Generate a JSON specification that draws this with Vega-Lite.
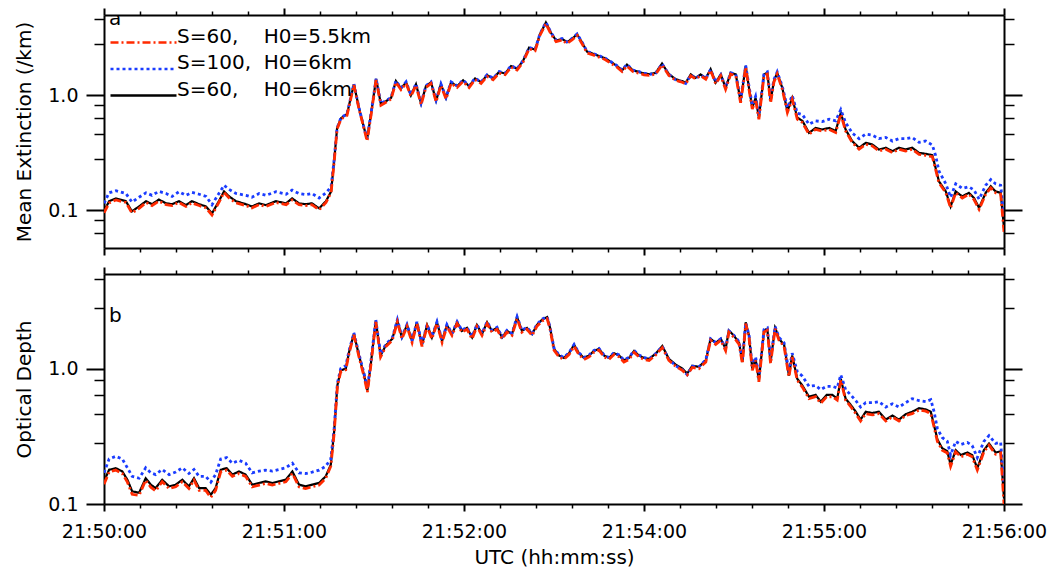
{
  "$schema": "https://vega.github.io/schema/vega-lite/v6.json",
  "padding": {"left": 14, "top": 7, "right": 2, "bottom": 0},
  "background": "white",
  "config": {
    "font": "DejaVu Sans",
    "view": {"stroke": null},
    "axis": {"grid": false, "domainColor": "black", "tickColor": "black", "labelColor": "black", "titleColor": "black", "labelFont": "DejaVu Sans", "titleFont": "DejaVu Sans", "titleFontWeight": "normal", "labelFontSize": 19, "titleFontSize": 20, "labelFlush": false},
    "concat": {"spacing": 10}
  },
  "resolve": {"scale": {"color": "independent", "strokeDash": "independent"}, "legend": {"color": "independent", "strokeDash": "independent"}},
  "datasets": {
    "ext": [
      {"t":0,"s60h55":0.095,"s100h6":0.115,"s60h6":0.098},
      {"t":1.7,"s60h55":0.116,"s100h6":0.142,"s60h6":0.120},
      {"t":4,"s60h55":0.123,"s100h6":0.148,"s60h6":0.127},
      {"t":7.3,"s60h55":0.117,"s100h6":0.140,"s60h6":0.120},
      {"t":9.3,"s60h55":0.095,"s100h6":0.118,"s60h6":0.098},
      {"t":11.7,"s60h55":0.104,"s100h6":0.130,"s60h6":0.108},
      {"t":14,"s60h55":0.117,"s100h6":0.142,"s60h6":0.120},
      {"t":16,"s60h55":0.110,"s100h6":0.135,"s60h6":0.113},
      {"t":18.3,"s60h55":0.120,"s100h6":0.146,"s60h6":0.124},
      {"t":20.7,"s60h55":0.112,"s100h6":0.140,"s60h6":0.115},
      {"t":22.7,"s60h55":0.110,"s100h6":0.132,"s60h6":0.113},
      {"t":25,"s60h55":0.117,"s100h6":0.145,"s60h6":0.120},
      {"t":27.3,"s60h55":0.108,"s100h6":0.135,"s60h6":0.111},
      {"t":29.3,"s60h55":0.116,"s100h6":0.143,"s60h6":0.120},
      {"t":31.7,"s60h55":0.110,"s100h6":0.138,"s60h6":0.113},
      {"t":34,"s60h55":0.105,"s100h6":0.132,"s60h6":0.108},
      {"t":36,"s60h55":0.091,"s100h6":0.112,"s60h6":0.094},
      {"t":38.3,"s60h55":0.117,"s100h6":0.140,"s60h6":0.120},
      {"t":40,"s60h55":0.143,"s100h6":0.165,"s60h6":0.146},
      {"t":41.7,"s60h55":0.128,"s100h6":0.152,"s60h6":0.132},
      {"t":44,"s60h55":0.116,"s100h6":0.140,"s60h6":0.120},
      {"t":47.3,"s60h55":0.110,"s100h6":0.135,"s60h6":0.113},
      {"t":49.3,"s60h55":0.105,"s100h6":0.130,"s60h6":0.108},
      {"t":51.7,"s60h55":0.112,"s100h6":0.140,"s60h6":0.115},
      {"t":54,"s60h55":0.108,"s100h6":0.135,"s60h6":0.111},
      {"t":57.3,"s60h55":0.117,"s100h6":0.145,"s60h6":0.120},
      {"t":60.7,"s60h55":0.112,"s100h6":0.138,"s60h6":0.115},
      {"t":62.7,"s60h55":0.123,"s100h6":0.150,"s60h6":0.127},
      {"t":65,"s60h55":0.112,"s100h6":0.140,"s60h6":0.115},
      {"t":67.3,"s60h55":0.110,"s100h6":0.137,"s60h6":0.113},
      {"t":69.3,"s60h55":0.112,"s100h6":0.140,"s60h6":0.115},
      {"t":71.7,"s60h55":0.101,"s100h6":0.128,"s60h6":0.104},
      {"t":74,"s60h55":0.117,"s100h6":0.142,"s60h6":0.120},
      {"t":75.7,"s60h55":0.143,"s100h6":0.160,"s60h6":0.146},
      {"t":76.7,"s60h55":0.260,"s100h6":0.275,"s60h6":0.267},
      {"t":77.7,"s60h55":0.510,"s100h6":0.520,"s60h6":0.519},
      {"t":79,"s60h55":0.620,"s100h6":0.640,"s60h6":0.633},
      {"t":81,"s60h55":0.670,"s100h6":0.690,"s60h6":0.687},
      {"t":83.3,"s60h55":1.23,"s100h6":1.26,"s60h6":1.25},
      {"t":85,"s60h55":0.760,"s100h6":0.780,"s60h6":0.775},
      {"t":86.7,"s60h55":0.510,"s100h6":0.520,"s60h6":0.519},
      {"t":87.7,"s60h55":0.400,"s100h6":0.420,"s60h6":0.416},
      {"t":89,"s60h55":0.670,"s100h6":0.690,"s60h6":0.687},
      {"t":90.7,"s60h55":1.36,"s100h6":1.40,"s60h6":1.39},
      {"t":92.3,"s60h55":0.82,"s100h6":0.85,"s60h6":0.84},
      {"t":94,"s60h55":0.87,"s100h6":0.90,"s60h6":0.89},
      {"t":95.7,"s60h55":0.93,"s100h6":0.96,"s60h6":0.95},
      {"t":97.3,"s60h55":1.30,"s100h6":1.34,"s60h6":1.33},
      {"t":99,"s60h55":1.12,"s100h6":1.16,"s60h6":1.15},
      {"t":100.7,"s60h55":1.27,"s100h6":1.31,"s60h6":1.30},
      {"t":102.3,"s60h55":0.98,"s100h6":1.01,"s60h6":1.00},
      {"t":104,"s60h55":1.22,"s100h6":1.26,"s60h6":1.25},
      {"t":105.7,"s60h55":0.83,"s100h6":0.86,"s60h6":0.85},
      {"t":107.3,"s60h55":1.17,"s100h6":1.21,"s60h6":1.20},
      {"t":109,"s60h55":1.27,"s100h6":1.31,"s60h6":1.30},
      {"t":110.7,"s60h55":0.88,"s100h6":0.91,"s60h6":0.90},
      {"t":112.3,"s60h55":1.22,"s100h6":1.26,"s60h6":1.25},
      {"t":114,"s60h55":0.93,"s100h6":0.96,"s60h6":0.95},
      {"t":115.7,"s60h55":1.27,"s100h6":1.31,"s60h6":1.30},
      {"t":117.7,"s60h55":1.17,"s100h6":1.21,"s60h6":1.20},
      {"t":119.7,"s60h55":1.32,"s100h6":1.36,"s60h6":1.35},
      {"t":121.7,"s60h55":1.17,"s100h6":1.21,"s60h6":1.20},
      {"t":123.7,"s60h55":1.37,"s100h6":1.41,"s60h6":1.40},
      {"t":125.7,"s60h55":1.27,"s100h6":1.31,"s60h6":1.30},
      {"t":127.7,"s60h55":1.46,"s100h6":1.51,"s60h6":1.50},
      {"t":129.7,"s60h55":1.37,"s100h6":1.41,"s60h6":1.40},
      {"t":131.7,"s60h55":1.56,"s100h6":1.61,"s60h6":1.60},
      {"t":133.7,"s60h55":1.51,"s100h6":1.56,"s60h6":1.55},
      {"t":135.7,"s60h55":1.76,"s100h6":1.81,"s60h6":1.80},
      {"t":137.7,"s60h55":1.66,"s100h6":1.71,"s60h6":1.70},
      {"t":139.7,"s60h55":1.95,"s100h6":2.01,"s60h6":2.00},
      {"t":141.7,"s60h55":2.54,"s100h6":2.61,"s60h6":2.60},
      {"t":143.7,"s60h55":2.44,"s100h6":2.51,"s60h6":2.50},
      {"t":145.3,"s60h55":3.32,"s100h6":3.42,"s60h6":3.40},
      {"t":147.3,"s60h55":4.20,"s100h6":4.32,"s60h6":4.30},
      {"t":149,"s60h55":3.42,"s100h6":3.52,"s60h6":3.50},
      {"t":150.7,"s60h55":2.93,"s100h6":3.02,"s60h6":3.00},
      {"t":152.7,"s60h55":3.03,"s100h6":3.12,"s60h6":3.10},
      {"t":154.3,"s60h55":2.83,"s100h6":2.92,"s60h6":2.90},
      {"t":156,"s60h55":3.03,"s100h6":3.12,"s60h6":3.10},
      {"t":157.7,"s60h55":3.32,"s100h6":3.42,"s60h6":3.40},
      {"t":159.3,"s60h55":2.83,"s100h6":2.92,"s60h6":2.90},
      {"t":161,"s60h55":2.34,"s100h6":2.41,"s60h6":2.40},
      {"t":163,"s60h55":2.25,"s100h6":2.31,"s60h6":2.30},
      {"t":165,"s60h55":2.15,"s100h6":2.21,"s60h6":2.20},
      {"t":167,"s60h55":2.05,"s100h6":2.11,"s60h6":2.10},
      {"t":169,"s60h55":1.90,"s100h6":1.96,"s60h6":1.95},
      {"t":171,"s60h55":1.76,"s100h6":1.81,"s60h6":1.80},
      {"t":172.7,"s60h55":1.61,"s100h6":1.66,"s60h6":1.65},
      {"t":174.3,"s60h55":1.80,"s100h6":1.86,"s60h6":1.85},
      {"t":176.3,"s60h55":1.61,"s100h6":1.66,"s60h6":1.65},
      {"t":178.3,"s60h55":1.56,"s100h6":1.61,"s60h6":1.60},
      {"t":180,"s60h55":1.51,"s100h6":1.56,"s60h6":1.55},
      {"t":181.7,"s60h55":1.49,"s100h6":1.52,"s60h6":1.53},
      {"t":183.9,"s60h55":1.53,"s100h6":1.56,"s60h6":1.57},
      {"t":186,"s60h55":1.84,"s100h6":1.88,"s60h6":1.89},
      {"t":188.3,"s60h55":1.49,"s100h6":1.52,"s60h6":1.53},
      {"t":190.6,"s60h55":1.35,"s100h6":1.36,"s60h6":1.38},
      {"t":192.7,"s60h55":1.30,"s100h6":1.31,"s60h6":1.33},
      {"t":193.9,"s60h55":1.26,"s100h6":1.27,"s60h6":1.29},
      {"t":195.6,"s60h55":1.48,"s100h6":1.50,"s60h6":1.52},
      {"t":197.2,"s60h55":1.39,"s100h6":1.41,"s60h6":1.42},
      {"t":198.9,"s60h55":1.48,"s100h6":1.50,"s60h6":1.52},
      {"t":200.6,"s60h55":1.38,"s100h6":1.40,"s60h6":1.41},
      {"t":202.2,"s60h55":1.65,"s100h6":1.68,"s60h6":1.69},
      {"t":203.9,"s60h55":1.26,"s100h6":1.30,"s60h6":1.29},
      {"t":205.6,"s60h55":1.48,"s100h6":1.51,"s60h6":1.52},
      {"t":207.2,"s60h55":1.13,"s100h6":1.18,"s60h6":1.16},
      {"t":208.9,"s60h55":1.53,"s100h6":1.57,"s60h6":1.57},
      {"t":210.6,"s60h55":1.48,"s100h6":1.53,"s60h6":1.52},
      {"t":212.2,"s60h55":0.86,"s100h6":0.92,"s60h6":0.89},
      {"t":213.9,"s60h55":1.76,"s100h6":1.82,"s60h6":1.80},
      {"t":215,"s60h55":1.13,"s100h6":1.20,"s60h6":1.16},
      {"t":216.1,"s60h55":0.76,"s100h6":0.82,"s60h6":0.78},
      {"t":217.2,"s60h55":0.92,"s100h6":0.98,"s60h6":0.95},
      {"t":218.3,"s60h55":0.62,"s100h6":0.67,"s60h6":0.64},
      {"t":220,"s60h55":1.48,"s100h6":1.55,"s60h6":1.52},
      {"t":221.1,"s60h55":1.53,"s100h6":1.60,"s60h6":1.57},
      {"t":222.2,"s60h55":0.86,"s100h6":0.93,"s60h6":0.89},
      {"t":223.3,"s60h55":1.30,"s100h6":1.37,"s60h6":1.33},
      {"t":224.4,"s60h55":1.53,"s100h6":1.60,"s60h6":1.57},
      {"t":226.1,"s60h55":1.13,"s100h6":1.20,"s60h6":1.16},
      {"t":227.8,"s60h55":0.71,"s100h6":0.78,"s60h6":0.73},
      {"t":229.4,"s60h55":0.92,"s100h6":1.00,"s60h6":0.95},
      {"t":231.1,"s60h55":0.62,"s100h6":0.70,"s60h6":0.64},
      {"t":232.8,"s60h55":0.58,"s100h6":0.68,"s60h6":0.60},
      {"t":235,"s60h55":0.460,"s100h6":0.56,"s60h6":0.472},
      {"t":237.2,"s60h55":0.505,"s100h6":0.60,"s60h6":0.52},
      {"t":239.4,"s60h55":0.49,"s100h6":0.59,"s60h6":0.505},
      {"t":241.7,"s60h55":0.505,"s100h6":0.62,"s60h6":0.52},
      {"t":243.9,"s60h55":0.475,"s100h6":0.60,"s60h6":0.49},
      {"t":245.6,"s60h55":0.685,"s100h6":0.75,"s60h6":0.705},
      {"t":247.2,"s60h55":0.49,"s100h6":0.58,"s60h6":0.505},
      {"t":249.4,"s60h55":0.39,"s100h6":0.47,"s60h6":0.40},
      {"t":251.7,"s60h55":0.34,"s100h6":0.42,"s60h6":0.35},
      {"t":253.9,"s60h55":0.375,"s100h6":0.46,"s60h6":0.386},
      {"t":256.1,"s60h55":0.363,"s100h6":0.45,"s60h6":0.374},
      {"t":258.3,"s60h55":0.328,"s100h6":0.42,"s60h6":0.338},
      {"t":260.6,"s60h55":0.34,"s100h6":0.43,"s60h6":0.35},
      {"t":262.8,"s60h55":0.318,"s100h6":0.40,"s60h6":0.327},
      {"t":265,"s60h55":0.34,"s100h6":0.42,"s60h6":0.35},
      {"t":267.2,"s60h55":0.328,"s100h6":0.42,"s60h6":0.338},
      {"t":269.4,"s60h55":0.34,"s100h6":0.43,"s60h6":0.35},
      {"t":271.7,"s60h55":0.307,"s100h6":0.39,"s60h6":0.316},
      {"t":273.9,"s60h55":0.30,"s100h6":0.40,"s60h6":0.31},
      {"t":276.1,"s60h55":0.293,"s100h6":0.37,"s60h6":0.302},
      {"t":277.2,"s60h55":0.227,"s100h6":0.30,"s60h6":0.234},
      {"t":278.3,"s60h55":0.174,"s100h6":0.22,"s60h6":0.179},
      {"t":280.6,"s60h55":0.142,"s100h6":0.17,"s60h6":0.146},
      {"t":282.2,"s60h55":0.105,"s100h6":0.13,"s60h6":0.108},
      {"t":283.9,"s60h55":0.142,"s100h6":0.17,"s60h6":0.146},
      {"t":286.1,"s60h55":0.128,"s100h6":0.155,"s60h6":0.132},
      {"t":288.3,"s60h55":0.138,"s100h6":0.16,"s60h6":0.142},
      {"t":290,"s60h55":0.124,"s100h6":0.15,"s60h6":0.128},
      {"t":291.7,"s60h55":0.102,"s100h6":0.125,"s60h6":0.105},
      {"t":293.9,"s60h55":0.138,"s100h6":0.165,"s60h6":0.142},
      {"t":295.6,"s60h55":0.157,"s100h6":0.185,"s60h6":0.162},
      {"t":297.2,"s60h55":0.142,"s100h6":0.17,"s60h6":0.146},
      {"t":298.9,"s60h55":0.138,"s100h6":0.165,"s60h6":0.142},
      {"t":300,"s60h55":0.065,"s100h6":0.085,"s60h6":0.070}
    ],
    "od": [
      {"t":0,"s60h55":0.140,"s100h6":0.170,"s60h6":0.147},
      {"t":1.7,"s60h55":0.172,"s100h6":0.215,"s60h6":0.179},
      {"t":3.9,"s60h55":0.178,"s100h6":0.225,"s60h6":0.184},
      {"t":6.1,"s60h55":0.168,"s100h6":0.215,"s60h6":0.174},
      {"t":7.8,"s60h55":0.145,"s100h6":0.185,"s60h6":0.151},
      {"t":9.4,"s60h55":0.118,"s100h6":0.160,"s60h6":0.124},
      {"t":11.7,"s60h55":0.116,"s100h6":0.155,"s60h6":0.121},
      {"t":13.9,"s60h55":0.150,"s100h6":0.185,"s60h6":0.155},
      {"t":15.6,"s60h55":0.133,"s100h6":0.170,"s60h6":0.139},
      {"t":17.2,"s60h55":0.125,"s100h6":0.165,"s60h6":0.131},
      {"t":19.4,"s60h55":0.146,"s100h6":0.180,"s60h6":0.151},
      {"t":21.7,"s60h55":0.130,"s100h6":0.165,"s60h6":0.135},
      {"t":23.9,"s60h55":0.134,"s100h6":0.172,"s60h6":0.139},
      {"t":26.1,"s60h55":0.146,"s100h6":0.185,"s60h6":0.151},
      {"t":28.3,"s60h55":0.130,"s100h6":0.168,"s60h6":0.135},
      {"t":30,"s60h55":0.150,"s100h6":0.180,"s60h6":0.155},
      {"t":31.7,"s60h55":0.126,"s100h6":0.160,"s60h6":0.131},
      {"t":33.9,"s60h55":0.126,"s100h6":0.160,"s60h6":0.131},
      {"t":35.6,"s60h55":0.112,"s100h6":0.145,"s60h6":0.117},
      {"t":37.2,"s60h55":0.126,"s100h6":0.165,"s60h6":0.131},
      {"t":38.9,"s60h55":0.173,"s100h6":0.215,"s60h6":0.179},
      {"t":40.9,"s60h55":0.178,"s100h6":0.220,"s60h6":0.184},
      {"t":42.8,"s60h55":0.160,"s100h6":0.200,"s60h6":0.165},
      {"t":45,"s60h55":0.168,"s100h6":0.210,"s60h6":0.174},
      {"t":47.2,"s60h55":0.160,"s100h6":0.200,"s60h6":0.165},
      {"t":49.4,"s60h55":0.134,"s100h6":0.170,"s60h6":0.139},
      {"t":51.7,"s60h55":0.138,"s100h6":0.175,"s60h6":0.143},
      {"t":53.9,"s60h55":0.142,"s100h6":0.178,"s60h6":0.147},
      {"t":56.1,"s60h55":0.138,"s100h6":0.175,"s60h6":0.143},
      {"t":58.3,"s60h55":0.142,"s100h6":0.180,"s60h6":0.147},
      {"t":60.6,"s60h55":0.146,"s100h6":0.185,"s60h6":0.151},
      {"t":62.8,"s60h55":0.168,"s100h6":0.200,"s60h6":0.174},
      {"t":65,"s60h55":0.134,"s100h6":0.170,"s60h6":0.139},
      {"t":67.2,"s60h55":0.130,"s100h6":0.168,"s60h6":0.135},
      {"t":69.4,"s60h55":0.134,"s100h6":0.172,"s60h6":0.139},
      {"t":71.7,"s60h55":0.138,"s100h6":0.178,"s60h6":0.143},
      {"t":73.9,"s60h55":0.155,"s100h6":0.190,"s60h6":0.160},
      {"t":75.6,"s60h55":0.190,"s100h6":0.215,"s60h6":0.195},
      {"t":76.7,"s60h55":0.33,"s100h6":0.36,"s60h6":0.34},
      {"t":77.8,"s60h55":0.74,"s100h6":0.78,"s60h6":0.754},
      {"t":78.9,"s60h55":0.95,"s100h6":1.0,"s60h6":0.97},
      {"t":80.6,"s60h55":0.98,"s100h6":1.05,"s60h6":1.00},
      {"t":81.7,"s60h55":1.30,"s100h6":1.36,"s60h6":1.33},
      {"t":83.3,"s60h55":1.78,"s100h6":1.84,"s60h6":1.81},
      {"t":85,"s60h55":1.22,"s100h6":1.28,"s60h6":1.25},
      {"t":86.7,"s60h55":0.87,"s100h6":0.92,"s60h6":0.89},
      {"t":87.8,"s60h55":0.67,"s100h6":0.72,"s60h6":0.69},
      {"t":88.9,"s60h55":1.04,"s100h6":1.10,"s60h6":1.06},
      {"t":90.6,"s60h55":2.21,"s100h6":2.30,"s60h6":2.26},
      {"t":92.2,"s60h55":1.22,"s100h6":1.28,"s60h6":1.25},
      {"t":93.9,"s60h55":1.45,"s100h6":1.51,"s60h6":1.48},
      {"t":96.1,"s60h55":1.62,"s100h6":1.69,"s60h6":1.66},
      {"t":97.8,"s60h55":2.21,"s100h6":2.30,"s60h6":2.26},
      {"t":99.3,"s60h55":1.66,"s100h6":1.72,"s60h6":1.70},
      {"t":101,"s60h55":2.05,"s100h6":2.12,"s60h6":2.10},
      {"t":102.7,"s60h55":1.56,"s100h6":1.62,"s60h6":1.60},
      {"t":104.3,"s60h55":2.15,"s100h6":2.22,"s60h6":2.20},
      {"t":106,"s60h55":1.46,"s100h6":1.52,"s60h6":1.50},
      {"t":107.7,"s60h55":2.05,"s100h6":2.12,"s60h6":2.10},
      {"t":109.3,"s60h55":1.66,"s100h6":1.72,"s60h6":1.70},
      {"t":111,"s60h55":2.15,"s100h6":2.22,"s60h6":2.20},
      {"t":112.7,"s60h55":1.56,"s100h6":1.62,"s60h6":1.60},
      {"t":114.3,"s60h55":2.05,"s100h6":2.12,"s60h6":2.10},
      {"t":116,"s60h55":1.76,"s100h6":1.82,"s60h6":1.80},
      {"t":117.7,"s60h55":2.15,"s100h6":2.22,"s60h6":2.20},
      {"t":119.3,"s60h55":1.86,"s100h6":1.92,"s60h6":1.90},
      {"t":121,"s60h55":1.95,"s100h6":2.02,"s60h6":2.00},
      {"t":122.7,"s60h55":1.66,"s100h6":1.72,"s60h6":1.70},
      {"t":124.3,"s60h55":2.05,"s100h6":2.12,"s60h6":2.10},
      {"t":126,"s60h55":1.76,"s100h6":1.82,"s60h6":1.80},
      {"t":127.7,"s60h55":2.15,"s100h6":2.22,"s60h6":2.20},
      {"t":129.3,"s60h55":1.86,"s100h6":1.92,"s60h6":1.90},
      {"t":131,"s60h55":1.95,"s100h6":2.02,"s60h6":2.00},
      {"t":132.7,"s60h55":1.66,"s100h6":1.72,"s60h6":1.70},
      {"t":134.3,"s60h55":1.86,"s100h6":1.92,"s60h6":1.90},
      {"t":136,"s60h55":1.76,"s100h6":1.82,"s60h6":1.80},
      {"t":137.7,"s60h55":2.34,"s100h6":2.42,"s60h6":2.40},
      {"t":139.3,"s60h55":1.86,"s100h6":1.92,"s60h6":1.90},
      {"t":141,"s60h55":1.95,"s100h6":2.02,"s60h6":2.00},
      {"t":142.7,"s60h55":1.76,"s100h6":1.82,"s60h6":1.80},
      {"t":144.3,"s60h55":2.05,"s100h6":2.12,"s60h6":2.10},
      {"t":146,"s60h55":2.25,"s100h6":2.32,"s60h6":2.30},
      {"t":147.7,"s60h55":2.34,"s100h6":2.42,"s60h6":2.40},
      {"t":148.7,"s60h55":1.95,"s100h6":2.02,"s60h6":2.00},
      {"t":150,"s60h55":1.37,"s100h6":1.42,"s60h6":1.40},
      {"t":151.7,"s60h55":1.22,"s100h6":1.26,"s60h6":1.25},
      {"t":153.3,"s60h55":1.17,"s100h6":1.21,"s60h6":1.20},
      {"t":155,"s60h55":1.27,"s100h6":1.31,"s60h6":1.30},
      {"t":156.7,"s60h55":1.46,"s100h6":1.51,"s60h6":1.50},
      {"t":158.3,"s60h55":1.27,"s100h6":1.31,"s60h6":1.30},
      {"t":160,"s60h55":1.17,"s100h6":1.21,"s60h6":1.20},
      {"t":161.7,"s60h55":1.22,"s100h6":1.26,"s60h6":1.25},
      {"t":163.3,"s60h55":1.32,"s100h6":1.36,"s60h6":1.35},
      {"t":165,"s60h55":1.37,"s100h6":1.41,"s60h6":1.40},
      {"t":166.7,"s60h55":1.22,"s100h6":1.26,"s60h6":1.25},
      {"t":168.3,"s60h55":1.17,"s100h6":1.21,"s60h6":1.20},
      {"t":170,"s60h55":1.27,"s100h6":1.31,"s60h6":1.30},
      {"t":171.7,"s60h55":1.22,"s100h6":1.26,"s60h6":1.25},
      {"t":173.3,"s60h55":1.12,"s100h6":1.16,"s60h6":1.15},
      {"t":175,"s60h55":1.17,"s100h6":1.21,"s60h6":1.20},
      {"t":176.7,"s60h55":1.32,"s100h6":1.36,"s60h6":1.35},
      {"t":178.3,"s60h55":1.22,"s100h6":1.26,"s60h6":1.25},
      {"t":180,"s60h55":1.17,"s100h6":1.21,"s60h6":1.20},
      {"t":181.7,"s60h55":1.15,"s100h6":1.18,"s60h6":1.18},
      {"t":183.9,"s60h55":1.26,"s100h6":1.29,"s60h6":1.29},
      {"t":186.1,"s60h55":1.43,"s100h6":1.46,"s60h6":1.47},
      {"t":188.3,"s60h55":1.15,"s100h6":1.17,"s60h6":1.18},
      {"t":190.6,"s60h55":1.04,"s100h6":1.05,"s60h6":1.07},
      {"t":192.8,"s60h55":0.97,"s100h6":0.98,"s60h6":1.00},
      {"t":194.4,"s60h55":0.90,"s100h6":0.90,"s60h6":0.92},
      {"t":196.1,"s60h55":1.02,"s100h6":1.04,"s60h6":1.05},
      {"t":198.3,"s60h55":1.00,"s100h6":1.03,"s60h6":1.03},
      {"t":200.6,"s60h55":1.12,"s100h6":1.16,"s60h6":1.15},
      {"t":202.2,"s60h55":1.62,"s100h6":1.66,"s60h6":1.66},
      {"t":203.9,"s60h55":1.51,"s100h6":1.56,"s60h6":1.55},
      {"t":205.6,"s60h55":1.62,"s100h6":1.66,"s60h6":1.66},
      {"t":207.2,"s60h55":1.36,"s100h6":1.42,"s60h6":1.40},
      {"t":208.3,"s60h55":1.86,"s100h6":1.90,"s60h6":1.91},
      {"t":210,"s60h55":1.70,"s100h6":1.76,"s60h6":1.75},
      {"t":211.7,"s60h55":1.51,"s100h6":1.58,"s60h6":1.55},
      {"t":212.8,"s60h55":1.09,"s100h6":1.16,"s60h6":1.12},
      {"t":213.9,"s60h55":2.15,"s100h6":2.18,"s60h6":2.20},
      {"t":215,"s60h55":1.70,"s100h6":1.78,"s60h6":1.75},
      {"t":216.1,"s60h55":0.97,"s100h6":1.04,"s60h6":1.00},
      {"t":217.2,"s60h55":1.15,"s100h6":1.22,"s60h6":1.18},
      {"t":218.3,"s60h55":0.80,"s100h6":0.86,"s60h6":0.82},
      {"t":220,"s60h55":1.86,"s100h6":1.94,"s60h6":1.91},
      {"t":221.1,"s60h55":1.92,"s100h6":2.00,"s60h6":1.97},
      {"t":222.2,"s60h55":1.09,"s100h6":1.16,"s60h6":1.12},
      {"t":223.7,"s60h55":1.97,"s100h6":2.05,"s60h6":2.02},
      {"t":225,"s60h55":1.62,"s100h6":1.70,"s60h6":1.66},
      {"t":226.7,"s60h55":1.46,"s100h6":1.55,"s60h6":1.50},
      {"t":228.3,"s60h55":0.87,"s100h6":0.95,"s60h6":0.89},
      {"t":229.4,"s60h55":1.22,"s100h6":1.30,"s60h6":1.25},
      {"t":231.1,"s60h55":0.82,"s100h6":0.95,"s60h6":0.84},
      {"t":232.8,"s60h55":0.73,"s100h6":0.88,"s60h6":0.75},
      {"t":235,"s60h55":0.60,"s100h6":0.74,"s60h6":0.62},
      {"t":237.2,"s60h55":0.62,"s100h6":0.75,"s60h6":0.64},
      {"t":238.9,"s60h55":0.555,"s100h6":0.70,"s60h6":0.57},
      {"t":240.9,"s60h55":0.62,"s100h6":0.74,"s60h6":0.64},
      {"t":242.8,"s60h55":0.62,"s100h6":0.74,"s60h6":0.64},
      {"t":244.4,"s60h55":0.585,"s100h6":0.72,"s60h6":0.60},
      {"t":245.6,"s60h55":0.82,"s100h6":0.90,"s60h6":0.84},
      {"t":247.2,"s60h55":0.585,"s100h6":0.70,"s60h6":0.60},
      {"t":248.9,"s60h55":0.525,"s100h6":0.64,"s60h6":0.54},
      {"t":250.6,"s60h55":0.465,"s100h6":0.58,"s60h6":0.48},
      {"t":252.2,"s60h55":0.41,"s100h6":0.52,"s60h6":0.42},
      {"t":253.9,"s60h55":0.465,"s100h6":0.56,"s60h6":0.48},
      {"t":256.1,"s60h55":0.455,"s100h6":0.56,"s60h6":0.47},
      {"t":258.3,"s60h55":0.465,"s100h6":0.57,"s60h6":0.48},
      {"t":260.6,"s60h55":0.41,"s100h6":0.52,"s60h6":0.42},
      {"t":262.8,"s60h55":0.44,"s100h6":0.55,"s60h6":0.45},
      {"t":265,"s60h55":0.41,"s100h6":0.52,"s60h6":0.42},
      {"t":267.2,"s60h55":0.45,"s100h6":0.56,"s60h6":0.46},
      {"t":269.4,"s60h55":0.465,"s100h6":0.60,"s60h6":0.48},
      {"t":271.7,"s60h55":0.495,"s100h6":0.58,"s60h6":0.51},
      {"t":273.9,"s60h55":0.485,"s100h6":0.57,"s60h6":0.50},
      {"t":275.6,"s60h55":0.465,"s100h6":0.59,"s60h6":0.48},
      {"t":276.7,"s60h55":0.37,"s100h6":0.48,"s60h6":0.38},
      {"t":277.8,"s60h55":0.29,"s100h6":0.36,"s60h6":0.30},
      {"t":279.4,"s60h55":0.25,"s100h6":0.31,"s60h6":0.258},
      {"t":281.1,"s60h55":0.238,"s100h6":0.29,"s60h6":0.245},
      {"t":282.2,"s60h55":0.19,"s100h6":0.23,"s60h6":0.195},
      {"t":283.9,"s60h55":0.243,"s100h6":0.29,"s60h6":0.25},
      {"t":285.6,"s60h55":0.223,"s100h6":0.275,"s60h6":0.23},
      {"t":287.8,"s60h55":0.233,"s100h6":0.285,"s60h6":0.24},
      {"t":289.4,"s60h55":0.223,"s100h6":0.27,"s60h6":0.23},
      {"t":291.1,"s60h55":0.178,"s100h6":0.22,"s60h6":0.184},
      {"t":293.3,"s60h55":0.243,"s100h6":0.29,"s60h6":0.25},
      {"t":295,"s60h55":0.272,"s100h6":0.32,"s60h6":0.28},
      {"t":297.2,"s60h55":0.233,"s100h6":0.28,"s60h6":0.24},
      {"t":298.9,"s60h55":0.238,"s100h6":0.285,"s60h6":0.245},
      {"t":300,"s60h55":0.10,"s100h6":0.13,"s60h6":0.11}
    ]
  },
  "vconcat": [
    {
      "width": 900,
      "height": 233,
      "data": {"name": "ext"},
      "resolve": {"axis": {"x": "independent", "y": "independent"}},
      "layer": [
        {
          "transform": [{"fold": ["s60h6"], "as": ["series", "value"]}],
          "mark": {"type": "line", "strokeWidth": 2.2, "clip": true},
          "encoding": {
            "x": {"field": "t", "type": "quantitative", "scale": {"domain": [0, 300], "nice": false, "zero": false},
                  "axis": {"orient": "bottom", "values": [0, 60, 120, 180, 240, 300], "labels": false, "tickSize": 7, "tickWidth": 2, "domain": true, "domainWidth": 2, "title": null}},
            "y": {"field": "value", "type": "quantitative", "scale": {"type": "log", "domain": [0.047, 5], "nice": false},
                  "axis": {"orient": "left", "values": [0.1, 1], "format": ".1f", "tickSize": 18, "tickWidth": 2, "labelPadding": 8, "domain": true, "domainWidth": 2, "title": "Mean Extinction (/km)", "titlePadding": 13}},
            "color": {"field": "series", "type": "nominal",
                      "scale": {"domain": ["s60h55", "s100h6", "s60h6"], "range": ["#ff2a00", "#1a3cff", "#000000"]},
                      "legend": {"orient": "none", "legendX": 5, "legendY": 11, "title": null, "padding": 0, "symbolType": "M-1,0H3.4", "symbolSize": 900, "symbolStrokeWidth": 2.5, "labelFontSize": 20, "labelFont": "DejaVu Sans", "labelColor": "black", "labelBaseline": "alphabetic", "labelOffset": 35, "labelLimit": 400, "rowPadding": 4.5,
                                 "labelExpr": "datum.value === 's60h55' ? 'S=60,\u00a0\u00a0\u00a0\u00a0H0=5.5km' : datum.value === 's100h6' ? 'S=100,\u00a0\u00a0H0=6km' : 'S=60,\u00a0\u00a0\u00a0\u00a0H0=6km'"}},
            "strokeDash": {"field": "series", "type": "nominal",
                      "scale": {"domain": ["s60h55", "s100h6", "s60h6"], "range": [[8, 3, 2, 3], [3, 3], [1, 0]]},
                      "legend": {"orient": "none", "legendX": 5, "legendY": 11, "title": null, "padding": 0, "symbolType": "M-1,0H3.4", "symbolSize": 900, "symbolStrokeWidth": 2.5, "labelFontSize": 20, "labelFont": "DejaVu Sans", "labelColor": "black", "labelBaseline": "alphabetic", "labelOffset": 35, "labelLimit": 400, "rowPadding": 4.5,
                                 "labelExpr": "datum.value === 's60h55' ? 'S=60,\u00a0\u00a0\u00a0\u00a0H0=5.5km' : datum.value === 's100h6' ? 'S=100,\u00a0\u00a0H0=6km' : 'S=60,\u00a0\u00a0\u00a0\u00a0H0=6km'"}}
          }
        },
        {
          "transform": [{"fold": ["s100h6"], "as": ["series", "value"]}],
          "mark": {"type": "line", "strokeWidth": 2.8, "clip": true},
          "encoding": {
            "x": {"field": "t", "type": "quantitative", "scale": {"domain": [0, 300], "nice": false, "zero": false},
                  "axis": {"orient": "bottom", "values": [12, 24, 36, 48, 72, 84, 96, 108, 132, 144, 156, 168, 192, 204, 216, 228, 252, 264, 276, 288], "labels": false, "tickSize": 4, "tickWidth": 1.5, "domain": false, "title": null}},
            "y": {"field": "value", "type": "quantitative", "scale": {"type": "log", "domain": [0.047, 5], "nice": false},
                  "axis": {"orient": "left", "values": [0.064, 0.082, 0.28, 0.46, 0.64, 0.82, 2.8, 4.6], "labels": false, "tickSize": 10, "tickWidth": 1.5, "domain": false, "title": null}},
            "color": {"field": "series", "type": "nominal", "scale": {"domain": ["s60h55", "s100h6", "s60h6"], "range": ["#ff2a00", "#1a3cff", "#000000"]}},
            "strokeDash": {"field": "series", "type": "nominal", "scale": {"domain": ["s60h55", "s100h6", "s60h6"], "range": [[8, 3, 2, 3], [3, 3], [1, 0]]}}
          }
        },
        {
          "transform": [{"fold": ["s60h55"], "as": ["series", "value"]}],
          "mark": {"type": "line", "strokeWidth": 2.8, "clip": true},
          "encoding": {
            "x": {"field": "t", "type": "quantitative", "scale": {"domain": [0, 300], "nice": false, "zero": false},
                  "axis": {"orient": "top", "values": [0, 60, 120, 180, 240, 300], "labels": false, "tickSize": 7, "tickWidth": 2, "domain": true, "domainWidth": 2, "title": null}},
            "y": {"field": "value", "type": "quantitative", "scale": {"type": "log", "domain": [0.047, 5], "nice": false},
                  "axis": {"orient": "right", "values": [0.1, 1], "labels": false, "tickSize": 18, "tickWidth": 2, "domain": true, "domainWidth": 2, "title": null}},
            "color": {"field": "series", "type": "nominal", "scale": {"domain": ["s60h55", "s100h6", "s60h6"], "range": ["#ff2a00", "#1a3cff", "#000000"]}},
            "strokeDash": {"field": "series", "type": "nominal", "scale": {"domain": ["s60h55", "s100h6", "s60h6"], "range": [[8, 3, 2, 3], [3, 3], [1, 0]]}}
          }
        },
        {
          "data": {"values": [{"label": "a"}]},
          "mark": {"type": "text", "align": "left", "baseline": "alphabetic", "dx": 5, "fontSize": 20, "font": "DejaVu Sans", "color": "black", "clip": true},
          "encoding": {
            "text": {"field": "label"},
            "x": {"datum": 0, "type": "quantitative", "scale": {"domain": [0, 300], "nice": false, "zero": false},
                  "axis": {"orient": "top", "values": [12, 24, 36, 48, 72, 84, 96, 108, 132, 144, 156, 168, 192, 204, 216, 228, 252, 264, 276, 288], "labels": false, "tickSize": 4, "tickWidth": 1.5, "domain": false, "title": null}},
            "y": {"datum": 4.1, "type": "quantitative", "scale": {"type": "log", "domain": [0.047, 5], "nice": false},
                  "axis": {"orient": "right", "values": [0.064, 0.082, 0.28, 0.46, 0.64, 0.82, 2.8, 4.6], "labels": false, "tickSize": 10, "tickWidth": 1.5, "domain": false, "title": null}}
          }
        }
      ]
    },
    {
      "width": 900,
      "height": 230,
      "data": {"name": "od"},
      "resolve": {"axis": {"x": "independent", "y": "independent"}},
      "layer": [
        {
          "transform": [{"fold": ["s60h6"], "as": ["series", "value"]}],
          "mark": {"type": "line", "strokeWidth": 2.2, "clip": true},
          "encoding": {
            "x": {"field": "t", "type": "quantitative", "scale": {"domain": [0, 300], "nice": false, "zero": false},
                  "axis": {"orient": "bottom", "values": [0, 60, 120, 180, 240, 300], "labelExpr": "['21:50:00','21:51:00','21:52:00','21:54:00','21:55:00','21:56:00'][round(datum.value / 60)]", "labelPadding": 11, "tickSize": 7, "tickWidth": 2, "domain": true, "domainWidth": 2, "title": "UTC (hh:mm:ss)", "titlePadding": 6}},
            "y": {"field": "value", "type": "quantitative", "scale": {"type": "log", "domain": [0.1, 5], "nice": false},
                  "axis": {"orient": "left", "values": [0.1, 1], "format": ".1f", "tickSize": 18, "tickWidth": 2, "labelPadding": 8, "domain": true, "domainWidth": 2, "title": "Optical Depth", "titlePadding": 13}},
            "color": {"field": "series", "type": "nominal", "scale": {"domain": ["s60h55", "s100h6", "s60h6"], "range": ["#ff2a00", "#1a3cff", "#000000"]}, "legend": null},
            "strokeDash": {"field": "series", "type": "nominal", "scale": {"domain": ["s60h55", "s100h6", "s60h6"], "range": [[8, 3, 2, 3], [3, 3], [1, 0]]}, "legend": null}
          }
        },
        {
          "transform": [{"fold": ["s100h6"], "as": ["series", "value"]}],
          "mark": {"type": "line", "strokeWidth": 2.8, "clip": true},
          "encoding": {
            "x": {"field": "t", "type": "quantitative", "scale": {"domain": [0, 300], "nice": false, "zero": false},
                  "axis": {"orient": "bottom", "values": [12, 24, 36, 48, 72, 84, 96, 108, 132, 144, 156, 168, 192, 204, 216, 228, 252, 264, 276, 288], "labels": false, "tickSize": 4, "tickWidth": 1.5, "domain": false, "title": null}},
            "y": {"field": "value", "type": "quantitative", "scale": {"type": "log", "domain": [0.1, 5], "nice": false},
                  "axis": {"orient": "left", "values": [0.28, 0.46, 0.64, 0.82, 2.8, 4.6], "labels": false, "tickSize": 10, "tickWidth": 1.5, "domain": false, "title": null}},
            "color": {"field": "series", "type": "nominal", "scale": {"domain": ["s60h55", "s100h6", "s60h6"], "range": ["#ff2a00", "#1a3cff", "#000000"]}, "legend": null},
            "strokeDash": {"field": "series", "type": "nominal", "scale": {"domain": ["s60h55", "s100h6", "s60h6"], "range": [[8, 3, 2, 3], [3, 3], [1, 0]]}, "legend": null}
          }
        },
        {
          "transform": [{"fold": ["s60h55"], "as": ["series", "value"]}],
          "mark": {"type": "line", "strokeWidth": 2.8, "clip": true},
          "encoding": {
            "x": {"field": "t", "type": "quantitative", "scale": {"domain": [0, 300], "nice": false, "zero": false},
                  "axis": {"orient": "top", "values": [0, 60, 120, 180, 240, 300], "labels": false, "tickSize": 7, "tickWidth": 2, "domain": true, "domainWidth": 2, "title": null}},
            "y": {"field": "value", "type": "quantitative", "scale": {"type": "log", "domain": [0.1, 5], "nice": false},
                  "axis": {"orient": "right", "values": [0.1, 1], "labels": false, "tickSize": 18, "tickWidth": 2, "domain": true, "domainWidth": 2, "title": null}},
            "color": {"field": "series", "type": "nominal", "scale": {"domain": ["s60h55", "s100h6", "s60h6"], "range": ["#ff2a00", "#1a3cff", "#000000"]}, "legend": null},
            "strokeDash": {"field": "series", "type": "nominal", "scale": {"domain": ["s60h55", "s100h6", "s60h6"], "range": [[8, 3, 2, 3], [3, 3], [1, 0]]}, "legend": null}
          }
        },
        {
          "data": {"values": [{"label": "b"}]},
          "mark": {"type": "text", "align": "left", "baseline": "alphabetic", "dx": 5, "fontSize": 20, "font": "DejaVu Sans", "color": "black", "clip": true},
          "encoding": {
            "text": {"field": "label"},
            "x": {"datum": 0, "type": "quantitative", "scale": {"domain": [0, 300], "nice": false, "zero": false},
                  "axis": {"orient": "top", "values": [12, 24, 36, 48, 72, 84, 96, 108, 132, 144, 156, 168, 192, 204, 216, 228, 252, 264, 276, 288], "labels": false, "tickSize": 4, "tickWidth": 1.5, "domain": false, "title": null}},
            "y": {"datum": 2.2, "type": "quantitative", "scale": {"type": "log", "domain": [0.1, 5], "nice": false},
                  "axis": {"orient": "right", "values": [0.28, 0.46, 0.64, 0.82, 2.8, 4.6], "labels": false, "tickSize": 10, "tickWidth": 1.5, "domain": false, "title": null}}
          }
        }
      ]
    }
  ]
}
